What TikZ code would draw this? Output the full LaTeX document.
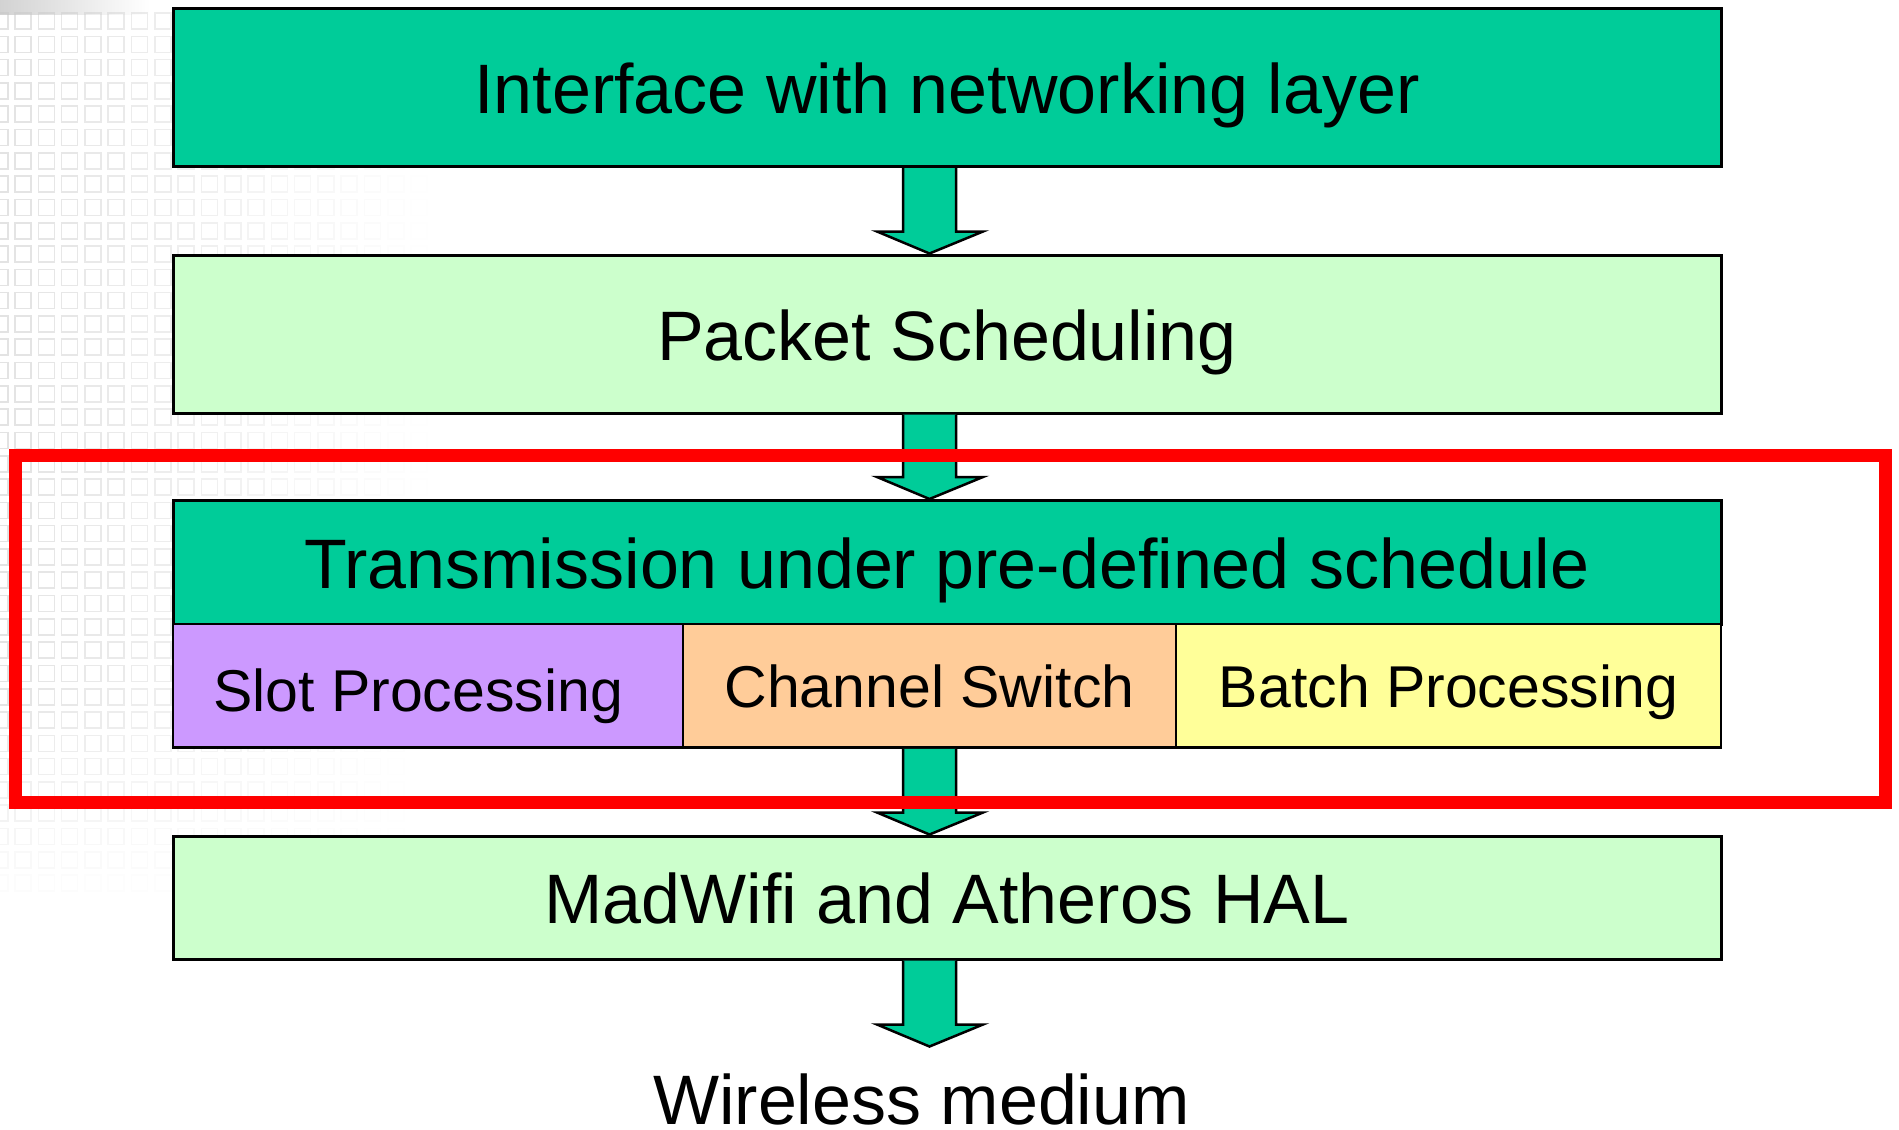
\documentclass[tikz,border=0pt]{standalone}
\usepackage{fontspec}
\setmainfont{Liberation Sans}
\usetikzlibrary{calc}

\definecolor{tealgreen}{HTML}{00CC99}
\definecolor{palegreen}{HTML}{CCFFCC}
\definecolor{lilac}{HTML}{CC99FF}
\definecolor{peach}{HTML}{FFCC99}
\definecolor{paleyellow}{HTML}{FFFF99}

\tikzset{
  layerbox/.style={draw=black, line width=3pt, inner sep=0pt, minimum width=1548pt,
    text height=52pt, text depth=0pt, font=\fontsize{70pt}{84pt}\selectfont},
  cellbox/.style={draw=black, line width=2.5pt, inner sep=0pt, minimum height=123.5pt,
    text height=44pt, text depth=0pt, font=\fontsize{59pt}{70pt}\selectfont},
  barrow/.style={fill=tealgreen, draw=black, line width=2.5pt, line join=miter},
  redframe/.style={draw=red, line width=13pt},
  gridtile/.style={draw=gray!45, line width=1.6pt}
}

% block arrow pointing down from the bottom of #1 to the top of #2
\newcommand\blockarrow[2]{%
  \filldraw[barrow]
    ($(#1 -| ax)+(-26.5,0)$) -- ($(#2 -| ax)+(-26.5,-22)$) --
    ($(#2 -| ax)+(-52.5,-22)$) -- (#2 -| ax) --
    ($(#2 -| ax)+(53.5,-22)$) -- ($(#2 -| ax)+(26.5,-22)$) --
    ($(#1 -| ax)+(26.5,0)$);}

\begin{document}
\begin{tikzpicture}[x=1pt, y=-1pt]
\useasboundingbox (0,0) rectangle (1899,1130);

% faint tiled backdrop at the upper left
\shade[left color=gray!35, right color=white] (0,0) rectangle (150,14);
\foreach \i in {-1,...,20} {
  \foreach \j in {0,...,38} {
    \pgfmathsetmacro\px{15+23.3*\i}
    \pgfmathsetmacro\py{13+23.3*\j}
    \pgfmathsetmacro\op{0.5*max(0,1-(\px+10)/430)*min(1,max(0,(900-\py)/220))}
    \draw[gridtile, draw opacity=\op] (\px,\py) rectangle ++(16,16);
  }
}

% column of the arrows
\coordinate (ax) at (929.5,0);

% layers
\node[layerbox, fill=tealgreen, minimum height=158pt] (b1) at (947,87.5)
  {Interface with networking layer};
\node[layerbox, fill=palegreen, minimum height=158pt] (b2) at (947,334)
  {Packet Scheduling};
\node[layerbox, fill=tealgreen, minimum height=123.5pt] (b3) at (947,562.25)
  {Transmission under pre-defined schedule};
\node[cellbox, fill=lilac, minimum width=510pt, text height=52pt] (slot) at (428,685.75)
  {\hspace*{-20pt}Slot Processing};
\node[cellbox, fill=peach, minimum width=493pt] (chan) at (929.5,685.75)
  {Channel Switch};
\node[cellbox, fill=paleyellow, minimum width=545pt] (batch) at (1448.5,685.75)
  {Batch Processing};
\node[layerbox, fill=palegreen, minimum height=123pt] (b4) at (947,897.5)
  {MadWifi and Atheros HAL};
\node[anchor=base, inner sep=0pt, font=\fontsize{70pt}{84pt}\selectfont] (wm) at (921.5,1124)
  {Wireless medium};
\coordinate (wmtop) at (929.5,1046.5);

% arrows between layers
\blockarrow{b1.south}{b2.north}
\blockarrow{b2.south}{b3.north}
\blockarrow{chan.south}{b4.north}
\blockarrow{b4.south}{wmtop}

% highlight frame
\draw[redframe] (15.5,455.5) rectangle (1885,802);
\end{tikzpicture}
\end{document}
